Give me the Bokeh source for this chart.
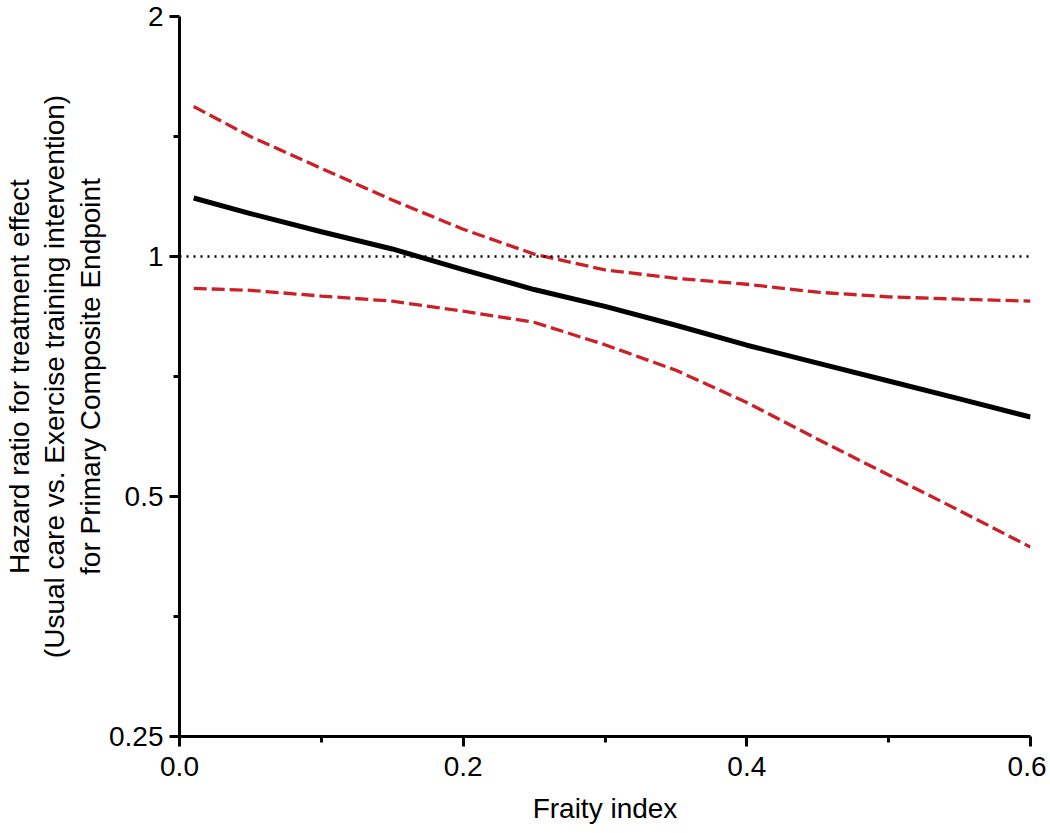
from bokeh.plotting import figure
from bokeh.models import Range1d, FixedTicker, CustomJSTickFormatter, Span
from bokeh.embed import file_html
from bokeh.resources import INLINE

# Data (hazard ratio vs frailty index)
frailty = [0.01, 0.05, 0.10, 0.15, 0.20, 0.25, 0.30, 0.35, 0.40, 0.45, 0.50, 0.55, 0.60]
hr_est = [1.184, 1.132, 1.074, 1.022, 0.963, 0.909, 0.866, 0.820, 0.774, 0.735, 0.698, 0.663, 0.629]
hr_upper = [1.542, 1.414, 1.290, 1.177, 1.082, 1.007, 0.962, 0.939, 0.923, 0.902, 0.890, 0.884, 0.879]
hr_lower = [0.912, 0.907, 0.892, 0.879, 0.854, 0.827, 0.775, 0.720, 0.656, 0.590, 0.532, 0.480, 0.432]

x_ticks = [0.0, 0.2, 0.4, 0.6]
x_minor = [0.1, 0.3, 0.5]
y_ticks = [0.25, 0.5, 1, 2]
y_minor = [0.35355, 0.70711, 1.41421]

FONT = "Liberation Sans"
RED = "#CC1F26"

p = figure(width=1046, height=832, output_backend="svg", toolbar_location=None,
           x_range=Range1d(0, 0.6), y_range=Range1d(0.25, 2), y_axis_type="log",
           min_border_left=176, min_border_top=16, min_border_right=16, min_border_bottom=96)
p.outline_line_color = None
p.xgrid.visible = False
p.ygrid.visible = False
p.background_fill_color = "white"
p.border_fill_color = "white"

p.add_layout(Span(location=1, dimension="width", line_color="black", line_width=2.5,
                  line_dash="2 5"))

p.line(frailty, hr_upper, line_color=RED, line_width=3.3, line_dash="13 5")
p.line(frailty, hr_lower, line_color=RED, line_width=3.3, line_dash="13 5")
p.line(frailty, hr_est, line_color="black", line_width=5, line_join="round")

for ax in (p.xaxis[0], p.yaxis[0]):
    ax.axis_line_width = 3
    ax.major_tick_line_width = 3
    ax.minor_tick_line_width = 3
    ax.major_tick_out = 10
    ax.major_tick_in = 0
    ax.minor_tick_out = 6
    ax.minor_tick_in = 0
    ax.major_label_text_font = FONT
    ax.major_label_text_font_size = "28px"
    ax.major_label_text_color = "black"
    ax.axis_label_text_font = FONT
    ax.axis_label_text_font_size = "28px"
    ax.axis_label_text_font_style = "normal"
    ax.axis_label_text_color = "black"

p.xaxis.ticker = FixedTicker(ticks=x_ticks, minor_ticks=x_minor)
p.yaxis.ticker = FixedTicker(ticks=y_ticks, minor_ticks=y_minor)
p.xaxis.formatter = CustomJSTickFormatter(code="return tick.toFixed(1);")
p.yaxis.formatter = CustomJSTickFormatter(code="return String(Math.round(tick*100)/100);")
p.xaxis.major_label_standoff = 10
p.yaxis.major_label_standoff = 6
p.xaxis.axis_label_standoff = 14
p.yaxis.axis_label_standoff = 0
p.yaxis.axis_label_text_line_height = 1.15

p.xaxis.axis_label = "Fraity index"
p.yaxis.axis_label = ("Hazard ratio for treatment effect\n"
                      "(Usual care vs. Exercise training intervention)\n"
                      "for Primary Composite Endpoint")

open("out.html", "w").write(file_html(p, INLINE))
